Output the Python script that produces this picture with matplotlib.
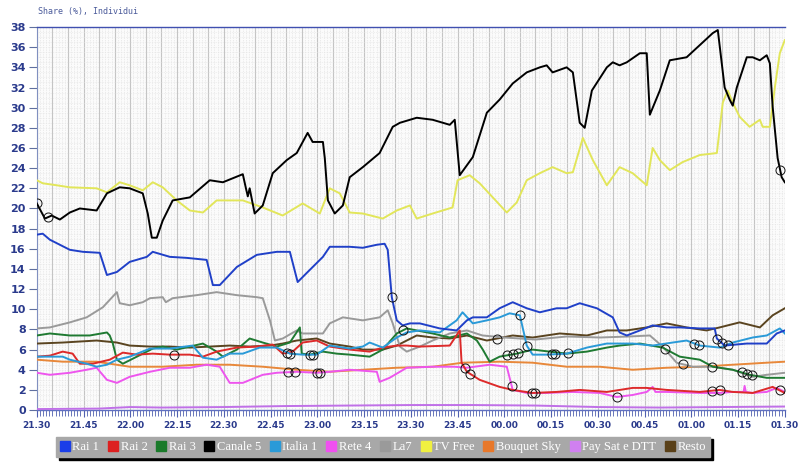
import numpy as np
import matplotlib
matplotlib.use("Agg")
import matplotlib.pyplot as plt
from matplotlib.ticker import MultipleLocator
from matplotlib.lines import Line2D

# minutes after 21:30, share values (%)
rai1_t = [0, 1.9, 4.2, 10.6, 14.8, 20.2, 22.5, 25.7, 29.8, 35.3, 37.2, 42.7, 48.1, 54.5, 56.5, 58.7, 64.2, 70.6, 77, 81.2,
          83.7, 86.6, 91.8, 94, 100.4, 104.6, 109.1, 111.6, 112.6, 113.9, 115.5, 117.4, 119.7, 122.9, 129.3, 134.7, 138,
          139.9, 144.4, 148.5, 152.7, 157.2, 161.4, 166.8, 170, 174.2, 179.7, 184.8, 187, 189.3, 193.5, 197.6, 202.1,
          206.3, 212.7, 217.5, 218.2, 220.7, 227.8, 234.2, 237.4, 240]
rai1_v = [17.4, 17.5, 16.9, 15.9, 15.7, 15.6, 13.4, 13.7, 14.7, 15.2, 15.7, 15.2, 15.1, 14.9, 12.4, 12.4, 14.2, 15.4, 15.7, 15.7,
          12.7, 13.6, 15.2, 16.2, 16.2, 16.1, 16.4, 16.5, 15.9, 11.2, 8.9, 8.4, 8.6, 8.6, 8.1, 7.9, 8.9,
          9.2, 9.2, 10.1, 10.7, 10.1, 9.7, 10.1, 10.1, 10.6, 10.1, 9.2, 7.7, 7.4, 7.9, 8.4, 8.2,
          8.2, 8.1, 8.1, 7.1, 6.4, 6.6, 6.6, 7.6, 7.9]

rai2_t = [0, 4.2, 8.3, 11.5, 13.8, 18, 23.4, 27.6, 32.1, 37.2, 42.7, 49.1, 53.3, 57.7, 64.2, 70.6, 75.7, 78.9, 82.1, 85.3,
          89.8, 94, 100.4, 106.8, 111, 115.5, 118.7, 122.9, 132.5, 135.7, 136.3, 138, 142.1, 148.5, 152.7, 159.1, 166.8,
          174.2, 182.9, 191.2, 195.7, 202.1, 212.7, 219.1, 223.3, 229.7, 236.1, 240]
rai2_v = [5.3, 5.4, 5.8, 5.6, 4.6, 4.6, 5.0, 5.7, 5.5, 5.6, 5.5, 5.5, 5.3, 5.8, 6.2, 6.3, 6.5, 5.6, 5.8, 6.7,
          6.9, 6.3, 6.0, 5.8, 6.2, 6.4, 6.4, 6.3, 6.4, 7.9, 4.7, 3.8, 3.0, 2.3, 2.0, 1.7, 1.8,
          2.0, 1.8, 2.2, 2.2, 2.0, 1.8, 2.0, 1.8, 1.7, 2.3, 1.7]

rai3_t = [0, 4.2, 10.6, 17, 22.5, 23.4, 24.4, 25.7, 27.6, 32.1, 37.2, 40.4, 44.9, 49.1, 53.3, 57.7, 59.7, 64.2, 68.3,
          72.5, 77, 81.2, 84.4, 85, 87.6, 91.8, 96.2, 100.4, 106.8, 111, 115.5, 118.7, 121.9, 127, 132.5, 138, 141.2,
          143.1, 145.3, 148.5, 154, 159.1, 170, 176.5, 182.9, 187, 193.5, 200.8, 206.3, 212.7, 216.9, 223.3, 228.7,
          234.2, 240]
rai3_v = [7.4, 7.6, 7.4, 7.4, 7.7, 7.4, 6.6, 5.0, 4.6, 5.3, 6.1, 6.3, 6.0, 6.3, 6.6, 5.8, 5.3, 6.0, 7.1,
          6.7, 6.3, 6.7, 8.2, 5.6, 5.5, 5.8, 5.6, 5.5, 5.3, 6.0, 7.6, 8.1, 7.9, 7.6, 7.2, 7.6, 6.9,
          6.0, 4.8, 5.3, 5.6, 6.0, 5.6, 5.8, 6.2, 6.4, 6.6, 6.2, 5.3, 5.0, 4.3, 4.0, 3.5,
          3.2, 3.2]

can5_t = [0, 2.6, 4.8, 7.4, 10.6, 13.8, 19.2, 22.5, 26.6, 29.8, 34, 35.6, 36.9, 38.5, 40.4, 43.6, 49.1, 55.5, 59.7,
          66.1, 67.1, 67.7, 68.3, 69.9, 72.5, 75.7, 80.2, 83.4, 86.9, 88.5, 91.8, 92.4, 93.4, 95.6, 98.2, 100.4, 104.6,
          110, 114.2, 116.5, 121.9, 127, 132.5, 134.1, 135.7, 139.9, 144.4, 148.5, 152.7, 157.2, 161.4, 163.6, 165.5,
          170, 172, 174.2, 175.8, 178.1, 182.9, 184.8, 187, 189.3, 193.5, 195.7, 196.7, 199.9, 203.1, 208.5, 212.7,
          216.9, 218.5, 220.7, 222.3, 223.3, 224.6, 227.8, 229.7, 232, 234.2, 235.2, 236.1, 237.7, 239, 240]
can5_v = [20.5, 19.0, 19.3, 18.9, 19.6, 20.0, 19.8, 21.5, 22.1, 22.0, 21.5, 19.5, 17.1, 17.1, 18.8, 20.8, 21.1, 22.8, 22.6,
          23.4, 22.0, 21.2, 22.0, 19.5, 20.3, 23.5, 24.8, 25.5, 27.5, 26.6, 26.6, 25.0, 20.8, 19.5, 20.3, 23.1, 24.1,
          25.5, 28.1, 28.5, 29.0, 28.8, 28.3, 28.8, 23.3, 25.1, 29.5, 30.8, 32.4, 33.5, 34.0, 34.2, 33.5,
          34.0, 33.5, 28.5, 28.0, 31.7, 34.0, 34.5, 34.2, 34.5, 35.4, 35.4, 29.3, 31.7, 34.7, 35.0, 36.2,
          37.4, 37.7, 32.0, 30.8, 30.2, 32.0, 35.0, 35.0, 34.7, 35.2, 34.4, 30.1, 25.0, 23.1, 22.6]

ita1_t = [0, 8.3, 10.6, 16, 19.2, 22.5, 25.7, 29.8, 36.3, 42.7, 50, 53.3, 57.7, 61.9, 66.1, 71.5, 77, 81.2, 85.3, 89.8,
          94, 100.4, 104.6, 106.8, 111, 115.5, 118.7, 122.9, 129.3, 134.7, 136.6, 139.9, 144.4, 148.5, 151.7, 155,
          157.2, 159.1, 163.6, 170, 176.5, 182.9, 191.2, 197.6, 204, 208.5, 212.7, 219.1, 223.3, 229.7, 234.2, 238.4,
          240]
ita1_v = [5.3, 5.3, 5.0, 4.6, 4.3, 4.5, 5.0, 5.3, 6.1, 6.1, 6.4, 5.2, 5.0, 5.6, 5.6, 6.2, 6.2, 5.6, 5.5, 5.5,
          6.4, 6.1, 6.3, 6.7, 6.2, 7.2, 7.7, 7.9, 7.7, 8.9, 9.7, 8.6, 8.9, 9.2, 9.6, 9.4,
          6.4, 5.5, 5.5, 5.6, 6.2, 6.6, 6.6, 6.4, 6.7, 6.9, 6.4, 6.2, 6.7, 7.2, 7.4, 8.1,
          7.6]

ret4_t = [0, 4.2, 10.6, 16, 19.2, 22.5, 25.7, 29.8, 36.3, 42.7, 49.1, 54.5, 58.7, 61.9, 66.1, 72.5, 77, 83.4, 89.8, 94,
          100.4, 109.1, 110, 113.2, 116.5, 118.7, 127, 134, 138, 145.3, 150.8, 152.7, 157.2, 163.6, 172, 180.6, 186.1,
          191.2, 195.7, 197.6, 198.5, 202.1, 212.7, 219.1, 223.3, 226.8, 227.1, 227.5, 229.7, 234.2, 237.4, 240]
ret4_v = [3.7, 3.5, 3.7, 4.0, 4.2, 3.0, 2.7, 3.3, 3.8, 4.2, 4.2, 4.5, 4.3, 2.7, 2.7, 3.5, 3.7, 3.8, 3.7, 3.8,
          4.0, 3.8, 2.8, 3.2, 3.8, 4.2, 4.3, 4.3, 4.2, 4.5, 4.3, 2.0, 1.7, 1.7, 1.8, 1.7, 1.3,
          1.5, 1.8, 2.3, 1.8, 1.8, 1.7, 1.7, 1.8, 1.8, 2.4, 1.8, 1.7, 1.8, 2.2, 1.8]

la7_t = [0, 4.2, 10.6, 16, 21.2, 25.7, 26.6, 29.8, 34, 36.3, 40.4, 41.4, 43.6, 51.3, 57.7, 64.2, 70.6, 72.5, 74.8, 76.4,
         78.9, 83.4, 85.3, 91.8, 94, 98.2, 104.6, 110, 112.6, 114.2, 116.5, 118.7, 122.9, 127, 132.5, 138, 143, 150,
         160, 170, 180.6, 190, 196.7, 200.8, 205.3, 210.5, 216.9, 223.3, 229.7, 234.2, 240]
la7_v = [8.1, 8.2, 8.7, 9.2, 10.2, 11.7, 10.6, 10.4, 10.7, 11.1, 11.2, 10.7, 11.1, 11.4, 11.7, 11.4, 11.2, 11.1, 8.9, 6.9,
         7.1, 7.9, 7.6, 7.6, 8.6, 9.2, 8.9, 9.2, 9.9, 8.6, 6.3, 5.8, 6.3, 6.9, 7.6, 7.9, 7.4, 7.2,
         7.0, 7.3, 7.2, 7.3, 7.4, 6.3, 4.7, 4.3, 4.3, 4.0, 3.3, 3.5, 3.7]

tvfree_t = [0, 1.9, 6.4, 10.6, 19.2, 22.5, 26.6, 29.8, 34, 37.2, 40.4, 44.9, 49.1, 53.3, 57.7, 66.1, 72.5, 78.9, 85.3,
            90.8, 94, 97.2, 100.4, 104.6, 111, 115.5, 119.7, 121.9, 127, 133.4, 135, 138.9, 142.1, 146.3, 150.8, 154,
            157.2, 161.4, 165.5, 170, 172, 175.2, 178.4, 182.9, 187, 191.2, 195.7, 197.6, 199.9, 203.1, 207.2, 212.7,
            218.2, 220.1, 221.7, 223.3, 225.5, 228.7, 232, 232.9, 235.2, 236.8, 238.4, 240]
tvfree_v = [22.8, 22.5, 22.3, 22.1, 22.0, 21.6, 22.6, 22.3, 21.8, 22.6, 22.1, 20.8, 19.8, 19.6, 20.8, 20.8, 20.1, 19.3, 20.5,
            19.5, 22.0, 21.5, 19.6, 19.5, 19.0, 19.8, 20.3, 19.0, 19.5, 20.1, 22.8, 23.3, 22.5, 21.1, 19.6, 20.6,
            22.8, 23.5, 24.1, 23.5, 23.6, 27.0, 24.8, 22.3, 24.1, 23.5, 22.3, 26.0, 24.8, 23.8, 24.6, 25.3,
            25.5, 30.5, 31.7, 30.5, 29.1, 28.1, 28.8, 28.1, 28.1, 32.0, 35.4, 36.7]

sky_t = [0, 8.3, 19.2, 29.8, 40.4, 51.3, 61.9, 72.5, 83.4, 94, 104.6, 115.5, 127, 136.6, 148.5, 159.1, 170, 180.6,
         191.2, 202.1, 212.7, 223.3, 234.2, 240]
sky_v = [5.0, 4.8, 4.8, 4.3, 4.3, 4.5, 4.5, 4.3, 4.0, 3.8, 4.0, 4.2, 4.3, 4.7, 4.8, 4.7, 4.3, 4.3,
         4.0, 4.2, 4.3, 4.5, 4.7, 4.8]

paysat_t = [0, 20, 30, 40, 60, 80, 100, 120, 140, 160, 180, 200, 220, 240]
paysat_v = [0.1, 0.15, 0.3, 0.25, 0.3, 0.4, 0.45, 0.5, 0.5, 0.45, 0.3, 0.25, 0.3, 0.35]

resto_t = [0, 8.3, 19.2, 25.7, 29.8, 36.3, 42.7, 49.1, 55.5, 61.9, 68.3, 74.8, 78.9, 83.4, 89.8, 94, 100.4, 104.6, 111,
           115.5, 118.7, 121.9, 127, 132.5, 138, 144.4, 152.7, 159.1, 167.8, 176.5, 182.9, 189.3, 195.7, 202.1, 208.5,
           214.9, 219.1, 225.5, 232, 236.1, 240]
resto_v = [6.6, 6.7, 6.9, 6.7, 6.4, 6.3, 6.3, 6.2, 6.3, 6.4, 6.3, 6.4, 6.6, 6.9, 7.1, 6.6, 6.3, 6.0, 6.0,
           6.4, 6.9, 7.4, 7.2, 7.1, 7.4, 6.9, 7.4, 7.2, 7.6, 7.4, 7.9, 7.9, 8.2, 8.6, 8.2,
           7.9, 8.2, 8.7, 8.2, 9.4, 10.1]

names = ["Rai 1", "Rai 2", "Rai 3", "Canale 5", "Italia 1", "Rete 4", "La7", "TV Free",
         "Bouquet Sky", "Pay Sat e DTT", "Resto"]
line_colors = ["#2040c8", "#dd2a2a", "#1f7a32", "#000000", "#2a9ad8", "#ee55ee", "#9a9a9a", "#e2e65a",
               "#e8883a", "#c070e8", "#5a4420"]
legend_colors = ["#1a3ee8", "#dd2020", "#1a7a2a", "#000000", "#2a9ad8", "#f050f0", "#9a9a9a", "#f0f040",
                 "#e8782a", "#d080f0", "#5a4018"]
series = {
    "Rai 1": (rai1_t, rai1_v), "Rai 2": (rai2_t, rai2_v), "Rai 3": (rai3_t, rai3_v),
    "Canale 5": (can5_t, can5_v), "Italia 1": (ita1_t, ita1_v), "Rete 4": (ret4_t, ret4_v),
    "La7": (la7_t, la7_v), "TV Free": (tvfree_t, tvfree_v), "Bouquet Sky": (sky_t, sky_v),
    "Pay Sat e DTT": (paysat_t, paysat_v), "Resto": (resto_t, resto_v),
}
draw_order = ["Pay Sat e DTT", "Bouquet Sky", "Resto", "La7", "Rete 4", "Rai 3", "Rai 2",
              "Italia 1", "Rai 1", "TV Free", "Canale 5"]

# circled events (series, minute)
event_series = ["Canale 5", "Canale 5", "Rai 2", "Rai 2", "Italia 1", "Rai 3", "Italia 1", "Rete 4", "Rete 4",
                "Rete 4", "Rete 4", "Rai 1", "Rai 3", "Rai 2", "Rai 2", "Rete 4", "Italia 1", "Italia 1", "Resto",
                "Rai 3", "Rai 3", "Rai 3", "Rete 4", "Rai 2", "Italia 1", "Italia 1", "Italia 1", "Rete 4", "La7",
                "La7", "Italia 1", "Italia 1", "La7", "Rai 1", "Rai 1", "Rai 1", "Rai 2", "Rai 2", "Rai 3", "Rai 3",
                "Rai 3", "Rai 2", "Canale 5"]
event_min = [0, 3.5, 44, 80.2, 81.2, 87.6, 88.5, 80.5, 82.8, 89.8, 90.8, 113.9, 117.4, 137.3, 139, 152.4, 155, 157.2,
             147.6, 150.8, 152.7, 154.3, 158.8, 159.8, 165.2, 166.2, 170.4, 186, 201.5, 207.2, 211, 212.5, 216.5,
             218.2, 219.8, 221.7, 216.5, 219.2, 226.2, 227.8, 229.4, 238.4, 238.5]

xtick_labels = ["21.30", "21.45", "22.00", "22.15", "22.30", "22.45", "23.00", "23.15", "23.30",
                "23.45", "00.00", "00.15", "00.30", "00.45", "01.00", "01.15", "01.30"]

blue_txt = "#2a3a8c"

fig = plt.figure(figsize=(8, 4.66), dpi=100)
ax = fig.add_axes([0.046, 0.12, 0.935, 0.822])
ax.set_facecolor("#fbfbfb")

for name in draw_order:
    t, v = series[name]
    ax.plot(t, v, color=line_colors[names.index(name)], lw=1.4, solid_joinstyle="round", zorder=3)

ev_y = [np.interp(m, *series[s]) for s, m in zip(event_series, event_min)]
ax.plot(event_min, ev_y, ls="none", marker="o", ms=6.5, mfc="none", mec="#111111", mew=0.7, zorder=4)

ax.set_xlim(0, 240)
ax.set_ylim(0, 38)
ax.set_xticks(np.arange(0, 241, 15))
ax.set_xticklabels(xtick_labels)
ax.xaxis.set_minor_locator(MultipleLocator(1))
ax.set_yticks(np.arange(0, 39, 2))
ax.yaxis.set_minor_locator(MultipleLocator(1))

# grid
for m in np.arange(0, 241, 1):
    if m % 5 == 0:
        ax.axvline(m, color="#c4c4c4", lw=0.8, zorder=1)
    else:
        ax.axvline(m, color="#dcdcdc", lw=0.5, ls=(0, (1, 1.5)), zorder=1)
for yv in np.arange(0.5, 38, 0.5):
    ax.axhline(yv, color="#e4e4e4", lw=0.5, ls=(0, (1, 1.5)), zorder=1)

for lab in ax.get_xticklabels() + ax.get_yticklabels():
    lab.set_fontweight("bold")
    lab.set_color(blue_txt)
    lab.set_fontfamily("DejaVu Sans")
ax.tick_params(axis="x", which="major", labelsize=6.5, length=5, color="#5060b0", width=0.8, pad=3)
ax.tick_params(axis="x", which="minor", length=4, color="#5060b0", width=0.6)
ax.tick_params(axis="y", which="major", labelsize=8, length=6, color="#6070a0", width=0.8, pad=2)
ax.tick_params(axis="y", which="minor", length=0)

ax.spines["top"].set_color("#4050b0")
ax.spines["top"].set_linewidth(1.0)
ax.spines["bottom"].set_color("#6070c0")
ax.spines["bottom"].set_linewidth(1.0)
ax.spines["left"].set_color("#8090c0")
ax.spines["right"].set_visible(False)

fig.text(0.047, 0.975, "Share (%), Individui", fontsize=6, color="#4a5a9a",
         family="DejaVu Sans Mono", va="center")

handles = [Line2D([], [], ls="none", marker="s", ms=7.5, mfc=c, mec=c) for c in legend_colors]
leg = fig.legend(handles, names, loc="lower center", bbox_to_anchor=(0.479, 0.005), ncol=11,
                 frameon=True, fancybox=False, shadow={"color": "black", "alpha": 1},
                 handlelength=0.7, handletextpad=0.25, columnspacing=0.75, borderpad=0.35,
                 prop={"family": "Liberation Serif", "size": 9})
leg.get_frame().set_facecolor("#a8a8a8")
leg.get_frame().set_edgecolor("#a8a8a8")
for txt in leg.get_texts():
    txt.set_color("white")

fig.savefig("out.png", dpi=100)
